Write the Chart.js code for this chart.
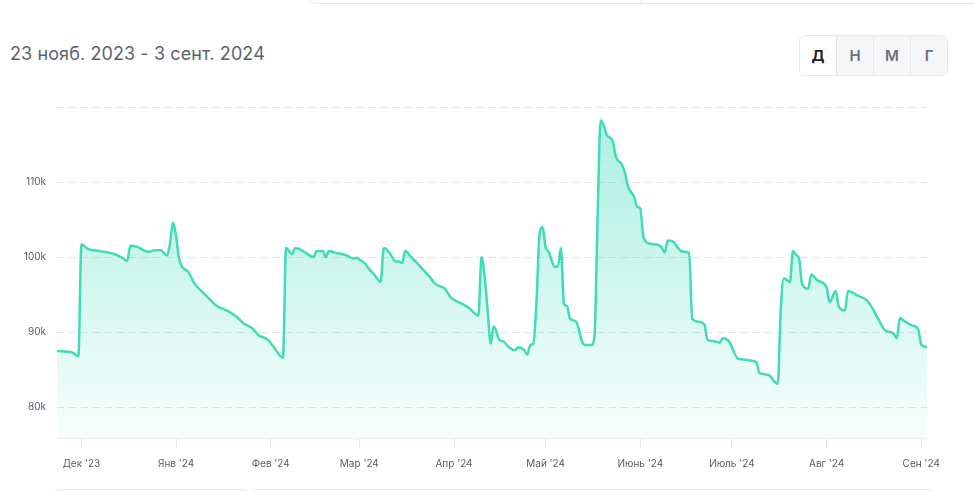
<!DOCTYPE html>
<html lang="ru">
<head>
<meta charset="utf-8">
<script src="https://cdn.jsdelivr.net/npm/chart.js@4.4.1/dist/chart.umd.min.js"></script>
<style>
  html, body { margin: 0; padding: 0; background: #fff; }
  body { width: 974px; height: 492px; position: relative; overflow: hidden; font-family: Inter, "Noto Sans", sans-serif; }
  .top-box { position: absolute; left: 309px; top: -12px; width: 680px; height: 14px; border: 1px solid #e6e8eb; border-radius: 4px; }
  .top-box .sep { position: absolute; left: 331px; top: 0; bottom: 0; border-left: 1px solid #e6e8eb; }
  .title { position: absolute; left: 10px; top: 43px; font-size: 18px; color: #5d636c; letter-spacing: 0.1px; }
  .btns { position: absolute; left: 799px; top: 35px; height: 39px; display: flex; border: 1px solid #e6e8eb; border-radius: 6px; overflow: hidden; background: #f4f6f8; }
  .btns div { width: 36px; line-height: 39px; text-align: center; font-size: 15px; font-weight: 600; color: #6b7079; border-left: 1px solid #e6e8eb; }
  .btns div:first-child { border-left: none; background: #fff; color: #1f2329; font-weight: 700; }
  .bottom-box { position: absolute; top: 489px; height: 14px; border: 1px solid #e6e8eb; border-radius: 4px; }
  #wrap { position: absolute; left: 0; top: 90px; width: 950px; height: 390px; }
</style>
</head>
<body>
<div class="top-box"><div class="sep"></div></div>
<div class="title">23 нояб. 2023 - 3 сент. 2024</div>
<div class="btns"><div>Д</div><div>Н</div><div>М</div><div>Г</div></div>
<div class="bottom-box" style="left:55px;width:190px"></div>
<div class="bottom-box" style="left:253px;width:678px"></div>
<div id="wrap"><canvas id="chart"></canvas></div>

<script>
// days since 23.11.2023
const days = [0,5,7,8,10,14,18,21,23,24,26,30,32,34,36,37,38,39,40,43,45,49,52,56,59,61,64,66,69,71,74,
  75,77,78,81,84,85,87,88,89,91,95,97,98,99,101,102,104,106,107,109,111,112,113,114,116,120,122,124,127,129,
  133,135,138,139,140,141,142,143,145,146,148,150,151,153,154,155,156,157,158,159,160,161,163,164,165,166,
  167,168,170,172,173,175,176,177,178,179,180,182,183,185,186,187,189,190,191,192,194,197,198,199,200,202,
  203,205,207,208,210,212,213,215,217,218,220,223,229,230,233,235,236,237,238,240,241,242,243,244,246,247,
  249,252,253,255,256,258,259,262,265,267,269,271,274,275,276,277,280,282,283,285];

const prices = [87500,87300,86800,101700,101100,100800,100500,100000,99500,101500,101400,100700,100900,100900,
  100200,101800,104600,102800,99700,98000,96500,94800,93600,92800,92000,91200,90500,89600,89000,88000,86600,
  101200,100400,101200,100700,100000,100800,100800,100000,100800,100600,100200,99800,99900,99700,99100,98500,
  97600,96700,101200,100500,99400,99400,99200,100800,100000,98300,97400,96400,95800,94600,
  93700,93200,92200,100000,97500,93000,88500,90800,88900,88800,88000,87600,88000,87600,87000,88300,88500,
  94000,103000,104000,101300,100700,98700,98700,101200,93800,
  93500,91800,91400,88700,88300,88300,89400,105000,118200,117600,116300,115400,113400,112300,111200,109400,
  108000,106700,106500,102700,101800,101600,101300,100600,102200,102000,
  101400,100700,100600,91800,91400,91000,89000,88800,88600,89200,88800,86500,86000,84600,84300,83400,83100,
  93000,97200,96700,100800,100300,99800,96400,95800,97700,
  96900,96000,94000,95500,93400,92900,95500,94900,94300,93200,91700,90300,89800,89200,91900,91600,90900,
  90400,88300,88000];

const monthDays = [8, 39, 70, 99, 130, 160, 191, 221, 252, 283];
const monthLabels = ["Дек '23", "Янв '24", "Фев '24", "Мар '24", "Апр '24", "Май '24", "Июнь '24", "Июль '24", "Авг '24", "Сен '24"];
const yTicks = [80000, 90000, 100000, 110000, 120000];

const lineColor = '#3fdcb8';
const tickFont = { family: 'Inter', size: 10 };
const tickColor = '#555d69';

function areaGradient(ctx) {
    const area = ctx.chart.chartArea;
    if (!area) return 'rgba(63,220,184,0.2)';
    const g = ctx.chart.ctx.createLinearGradient(0, area.top, 0, area.bottom);
    g.addColorStop(0, 'rgba(63,220,184,0.45)');
    g.addColorStop(1, 'rgba(63,220,184,0.04)');
    return g;
}

new Chart(document.getElementById('chart'), {
    type: 'line',
    data: {
        datasets: [{
            data: days.map((d, i) => ({ x: d, y: prices[i] })),
            borderColor: lineColor,
            borderWidth: 2.5,
            backgroundColor: areaGradient,
            fill: 'start',
            pointRadius: 0,
            cubicInterpolationMode: 'monotone'
        }]
    },
    options: {
        responsive: true,
        maintainAspectRatio: false,
        animation: false,
        layout: { padding: { top: 17, right: 18, left: 0, bottom: 0 } },
        plugins: { legend: { display: false }, tooltip: { enabled: false } },
        scales: {
            x: {
                type: 'linear',
                min: 0,
                max: 285,
                afterBuildTicks: s => { s.ticks = monthDays.map(v => ({ value: v })); },
                afterFit: s => { s.height = 42; },
                grid: { drawOnChartArea: false, drawTicks: true, tickLength: 10, color: '#e3e6ea' },
                border: { display: true, color: '#eef1f3' },
                ticks: {
                    autoSkip: false,
                    maxRotation: 0,
                    padding: 10,
                    font: tickFont,
                    color: tickColor,
                    callback: v => monthLabels[monthDays.indexOf(v)] ?? ''
                }
            },
            y: {
                min: 75900,
                max: 120000,
                afterBuildTicks: s => { s.ticks = yTicks.map(v => ({ value: v })); },
                afterFit: s => { s.width = 57; },
                grid: { drawTicks: false, color: '#e2e4e8' },
                border: { display: false, dash: [7, 5] },
                ticks: {
                    padding: 11,
                    font: tickFont,
                    color: tickColor,
                    callback: v => v >= 120000 ? '' : (v / 1000) + 'k'
                }
            }
        }
    }
});
</script>
</body>
</html>
